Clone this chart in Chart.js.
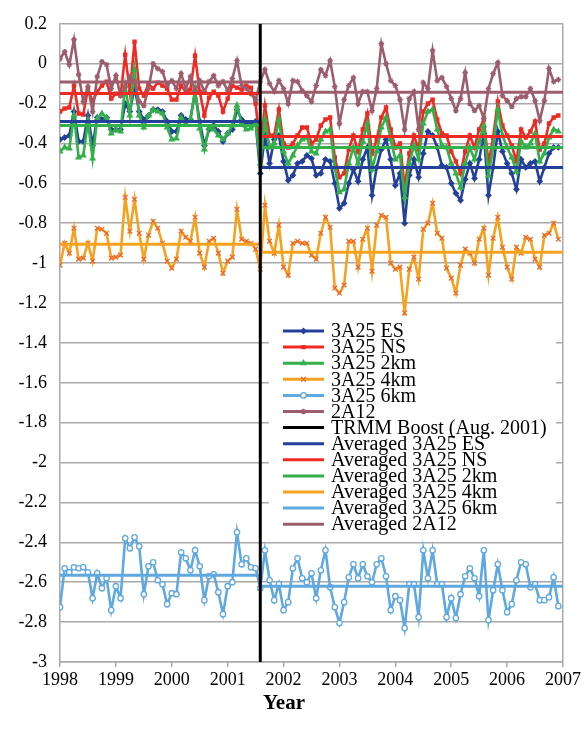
<!DOCTYPE html>
<html lang="en">
<head>
<meta charset="UTF-8">
<title>TRMM Boost - monthly anomalies</title>
<script src="https://cdn.jsdelivr.net/npm/chart.js"></script>
<style>
    body {
        margin: 0;
        background: #fff;
    }
    #wrap {
        width: 584px;
        height: 743px;
    }
</style>
</head>
<body>
<div id="wrap"><canvas id="chart" width="584" height="743"></canvas></div>
<script>
// monthly values, Jan 1998 .. Dec 2006
const startYear = 1998;
const boostIndex = 43; // Aug. 2001

const es = [-0.38,-0.37,-0.36,-0.24,-0.39,-0.39,-0.26,-0.41,-0.27,-0.28,
    -0.27,-0.33,-0.33,-0.33,-0.20,-0.24,-0.12,-0.24,-0.28,-0.26,
    -0.23,-0.23,-0.24,-0.29,-0.34,-0.34,-0.26,-0.28,-0.28,-0.14,
    -0.29,-0.41,-0.33,-0.31,-0.34,-0.39,-0.35,-0.33,-0.23,-0.28,
    -0.30,-0.31,-0.29,
    -0.55,-0.36,-0.50,-0.38,-0.36,-0.49,-0.585,-0.56,-0.50,-0.49,
    -0.46,-0.475,-0.56,-0.55,-0.48,-0.49,-0.60,-0.725,-0.70,-0.60,
    -0.53,-0.59,-0.48,-0.42,-0.66,-0.52,-0.43,-0.38,-0.48,-0.61,
    -0.55,-0.80,-0.56,-0.48,-0.57,-0.45,-0.34,-0.36,-0.42,-0.51,
    -0.52,-0.60,-0.65,-0.685,-0.58,-0.50,-0.575,-0.48,-0.35,-0.66,
    -0.52,-0.34,-0.44,-0.50,-0.55,-0.63,-0.48,-0.52,-0.50,-0.49,
    -0.59,-0.52,-0.45,-0.42,-0.42];

const ns = [-0.24,-0.225,-0.22,-0.11,-0.25,-0.255,-0.125,-0.19,-0.14,-0.11,
    -0.09,-0.175,-0.15,-0.16,0.045,-0.14,0.11,-0.125,-0.16,-0.10,
    -0.125,-0.095,-0.11,-0.125,-0.18,-0.18,-0.11,-0.14,-0.13,0.04,
    -0.14,-0.26,-0.17,-0.14,-0.16,-0.24,-0.175,-0.11,-0.12,-0.13,
    -0.11,-0.12,-0.20,
    -0.42,-0.21,-0.36,-0.36,-0.23,-0.40,-0.42,-0.40,-0.36,-0.32,
    -0.32,-0.40,-0.38,-0.31,-0.28,-0.27,-0.47,-0.57,-0.55,-0.43,
    -0.36,-0.44,-0.33,-0.25,-0.45,-0.38,-0.27,-0.22,-0.33,-0.42,
    -0.40,-0.62,-0.45,-0.36,-0.43,-0.24,-0.20,-0.18,-0.28,-0.35,
    -0.36,-0.44,-0.49,-0.55,-0.44,-0.36,-0.42,-0.33,-0.28,-0.50,
    -0.37,-0.19,-0.31,-0.36,-0.41,-0.49,-0.33,-0.37,-0.34,-0.29,
    -0.43,-0.40,-0.30,-0.27,-0.26];

const km2 = [-0.44,-0.42,-0.425,-0.26,-0.47,-0.46,-0.29,-0.475,-0.275,-0.25,
    -0.27,-0.35,-0.33,-0.34,-0.11,-0.26,-0.03,-0.26,-0.32,-0.26,
    -0.23,-0.24,-0.25,-0.32,-0.38,-0.375,-0.27,-0.30,-0.28,-0.13,
    -0.325,-0.43,-0.32,-0.33,-0.36,-0.38,-0.35,-0.31,-0.21,-0.30,
    -0.33,-0.325,-0.30,
    -0.50,-0.28,-0.42,-0.40,-0.28,-0.44,-0.50,-0.46,-0.41,-0.38,
    -0.37,-0.44,-0.45,-0.38,-0.34,-0.33,-0.52,-0.645,-0.63,-0.50,
    -0.42,-0.50,-0.39,-0.30,-0.53,-0.44,-0.32,-0.27,-0.38,-0.48,
    -0.46,-0.67,-0.50,-0.41,-0.48,-0.30,-0.24,-0.23,-0.33,-0.41,
    -0.42,-0.50,-0.55,-0.62,-0.50,-0.42,-0.48,-0.39,-0.31,-0.56,
    -0.42,-0.23,-0.36,-0.42,-0.47,-0.54,-0.39,-0.42,-0.40,-0.35,
    -0.49,-0.45,-0.37,-0.33,-0.34];

const km4 = [-1.01,-0.90,-0.95,-0.825,-0.98,-0.975,-0.90,-0.99,-0.825,-0.83,
    -0.85,-0.975,-0.97,-0.96,-0.67,-0.84,-0.68,-0.85,-0.98,-0.86,
    -0.79,-0.825,-0.90,-0.99,-1.025,-0.98,-0.84,-0.87,-0.89,-0.77,
    -0.95,-1.02,-0.89,-0.875,-0.95,-1.05,-0.99,-0.97,-0.73,-0.88,
    -0.89,-0.90,-0.93,-1.03,-0.71,-0.89,-0.95,-0.81,-1.02,-1.06,
    -0.90,-0.89,-0.90,-0.90,-0.96,-0.98,-0.85,-0.77,-0.82,-1.125,
    -1.15,-1.11,-0.89,-0.89,-1.02,-0.88,-0.825,-1.04,-0.81,-0.76,
    -0.77,-1.00,-1.03,-1.02,-1.25,-1.03,-0.97,-1.08,-0.83,-0.80,
    -0.70,-0.85,-0.875,-1.025,-1.075,-1.15,-1.01,-0.93,-0.95,-1.00,
    -0.88,-0.825,-1.06,-0.875,-0.77,-0.92,-1.02,-1.08,-0.92,-0.95,
    -0.87,-0.88,-0.98,-1.02,-0.86,-0.85,-0.80,-0.88];

const km6 = [-2.725,-2.53,-2.55,-2.525,-2.53,-2.525,-2.55,-2.68,-2.555,-2.63,
    -2.58,-2.74,-2.62,-2.68,-2.38,-2.43,-2.375,-2.42,-2.66,-2.52,
    -2.50,-2.59,-2.61,-2.71,-2.655,-2.66,-2.45,-2.48,-2.54,-2.44,
    -2.52,-2.69,-2.57,-2.56,-2.65,-2.76,-2.62,-2.60,-2.35,-2.51,
    -2.48,-2.525,-2.53,-2.63,-2.44,-2.59,-2.69,-2.61,-2.74,-2.70,
    -2.53,-2.48,-2.58,-2.60,-2.555,-2.68,-2.54,-2.44,-2.625,-2.725,
    -2.805,-2.70,-2.575,-2.51,-2.58,-2.51,-2.57,-2.60,-2.51,-2.48,
    -2.57,-2.74,-2.67,-2.69,-2.83,-2.61,-2.61,-2.775,-2.44,-2.58,
    -2.44,-2.61,-2.61,-2.775,-2.68,-2.78,-2.66,-2.57,-2.53,-2.58,
    -2.67,-2.44,-2.79,-2.64,-2.51,-2.64,-2.75,-2.71,-2.59,-2.50,
    -2.51,-2.625,-2.61,-2.69,-2.69,-2.675,-2.575,-2.72];

const a12 = [0.025,0.06,-0.005,0.12,-0.055,-0.19,-0.115,-0.24,-0.065,0.01,
    -0.005,-0.125,-0.06,-0.16,-0.115,-0.065,-0.09,-0.19,-0.21,-0.125,
    0.0,-0.025,-0.04,-0.11,-0.085,-0.125,-0.05,-0.125,-0.065,-0.14,
    -0.085,-0.14,-0.09,-0.06,-0.11,-0.09,-0.135,-0.075,0.015,-0.11,
    -0.125,-0.15,-0.18,
    -0.09,-0.03,-0.10,-0.14,-0.085,-0.125,-0.20,
    -0.085,-0.09,-0.135,-0.16,-0.19,-0.11,-0.03,-0.06,0.015,-0.115,
    -0.30,-0.18,-0.11,-0.07,-0.20,-0.14,-0.14,-0.235,-0.125,
    0.10,0.0,-0.085,-0.11,-0.18,-0.33,-0.175,-0.14,-0.33,-0.095,
    -0.125,0.065,-0.085,-0.07,-0.115,-0.175,-0.235,-0.175,-0.045,-0.20,
    -0.235,-0.21,-0.275,-0.125,-0.05,0.005,-0.16,-0.185,-0.215,-0.175,
    -0.165,-0.165,-0.125,-0.185,-0.285,-0.185,-0.025,-0.09,-0.08];

// averages: [before boost, after boost]
const avgES = [-0.29, -0.52];
const avgNS = [-0.15, -0.365];
const avg2km = [-0.31, -0.42];
const avg4km = [-0.905, -0.945];
const avg6km = [-2.565, -2.62];
const avg2A12 = [-0.092, -0.143];

const yTicks = { min: -3, max: 0.2, step: 0.2 };
const xTicks = { min: 1998, max: 2007, step: 1 };
const xTitle = 'Year';

const serif = 'Liberation Serif, Times New Roman, serif';
const gridGray = '#a9a9a9';
const boostX = startYear + boostIndex / 12;

function toPoints(arr) {
    return arr.map((v, i) => ({ x: startYear + i / 12, y: v }));
}

function avgPoints(pair) {
    return [
        { x: xTicks.min, y: pair[0] }, { x: boostX, y: pair[0] },
        { x: boostX, y: null },
        { x: boostX, y: pair[1] }, { x: xTicks.max, y: pair[1] }
    ];
}

function series(label, arr, color, style, radius, fill, border) {
    return {
        label: label,
        data: toPoints(arr),
        borderColor: color,
        backgroundColor: color,
        borderWidth: 2.6,
        pointStyle: style,
        pointRadius: radius,
        pointBackgroundColor: fill || color,
        pointBorderColor: border || color,
        pointBorderWidth: 1.3
    };
}

function averaged(label, pair, color) {
    return {
        label: label,
        data: avgPoints(pair),
        borderColor: color,
        borderWidth: 3,
        pointRadius: 0,
        spanGaps: false
    };
}

const blue = '#24409b', red = '#ee2a23', green = '#33b04a',
    orange = '#f6a21f', sky = '#5fa8e0', mauve = '#9c5d6c';

const datasets = [
    series('3A25 ES', es, blue, 'rectRot', 2.5),
    series('3A25 NS', ns, red, 'rect', 2.2),
    series('3A25 2km', km2, green, 'triangle', 2.8),
    series('3A25 4km', km4, orange, 'crossRot', 3.3, '#e9692c', '#e9692c'),
    series('3A25 6km', km6, sky, 'circle', 2.7, '#ffffff', sky),
    series('2A12', a12, mauve, 'star', 2.8),
    {
        label: 'TRMM Boost (Aug. 2001)',
        data: [{ x: boostX, y: yTicks.max }, { x: boostX, y: yTicks.min }],
        borderColor: '#000',
        borderWidth: 3,
        pointRadius: 0
    },
    averaged('Averaged 3A25 ES', avgES, blue),
    averaged('Averaged 3A25 NS', avgNS, red),
    averaged('Averaged 3A25 2km', avg2km, green),
    averaged('Averaged 3A25 4km', avg4km, orange),
    averaged('Averaged 3A25 6km', avg6km, sky),
    averaged('Averaged 2A12', avg2A12, mauve)
];
// spreadsheet style: later series painted over earlier ones,
// but the boost marker stays on top of everything
datasets.forEach((ds, i) => { ds.order = datasets.length - i; });
datasets[6].order = 0;

// legend box inside the plot, and the axis title a bit left of centre
const boxLegend = {
    id: 'boxLegend',
    afterDraw(chart) {
        const ctx = chart.ctx;
        const drawPoint = Chart.helpers && Chart.helpers.drawPoint;
        ctx.save();
        ctx.fillStyle = '#fff';
        ctx.fillRect(269, 316, 287, 221);
        ctx.font = '20px ' + serif;
        ctx.textBaseline = 'middle';
        ctx.textAlign = 'left';
        chart.data.datasets.forEach((ds, k) => {
            const y = 331 + k * 16.1;
            ctx.strokeStyle = ds.borderColor;
            ctx.lineWidth = 3;
            ctx.beginPath();
            ctx.moveTo(283, y);
            ctx.lineTo(324, y);
            ctx.stroke();
            if (ds.pointRadius > 0 && drawPoint) {
                ctx.fillStyle = ds.pointBackgroundColor;
                ctx.strokeStyle = ds.pointBorderColor;
                ctx.lineWidth = ds.pointBorderWidth;
                drawPoint(ctx, {
                    pointStyle: ds.pointStyle,
                    radius: ds.pointRadius,
                    borderWidth: ds.pointBorderWidth,
                    rotation: 0
                }, 303.5, y);
            }
            ctx.fillStyle = '#000';
            ctx.fillText(ds.label, 331, y + 1);
        });

        ctx.font = 'bold 21px ' + serif;
        ctx.textAlign = 'center';
        ctx.fillText(xTitle, 284, 704);
        ctx.restore();
    }
};

new Chart(document.getElementById('chart'), {
    type: 'line',
    data: { datasets: datasets },
    plugins: [boxLegend],
    options: {
        responsive: false,
        animation: false,
        layout: { padding: { left: 0, right: 21, top: 18, bottom: 10 } },
        plugins: {
            legend: { display: false },
            tooltip: { enabled: false }
        },
        scales: {
            x: {
                type: 'linear',
                min: xTicks.min,
                max: xTicks.max,
                afterFit: s => { s.height = 71; },
                ticks: {
                    stepSize: xTicks.step,
                    callback: v => String(v),
                    color: '#000',
                    font: { family: serif, size: 18 },
                    padding: 2,
                    maxRotation: 0,
                    autoSkip: false
                },
                grid: {
                    color: c => (c.tick && c.tick.value === xTicks.max) ? gridGray : 'rgba(0,0,0,0)',
                    tickColor: gridGray,
                    tickLength: 5,
                    lineWidth: 1.5
                },
                border: { color: gridGray, width: 1.5 }
            },
            y: {
                min: yTicks.min,
                max: yTicks.max,
                afterFit: s => { s.width = 60; },
                ticks: {
                    stepSize: yTicks.step,
                    callback: v => String(Math.round(v * 10) / 10),
                    color: '#000',
                    font: { family: serif, size: 18 },
                    padding: 13
                },
                grid: { color: gridGray, lineWidth: 1.5, drawTicks: false },
                border: { color: gridGray, width: 1.5 }
            }
        }
    }
});
</script>
</body>
</html>
